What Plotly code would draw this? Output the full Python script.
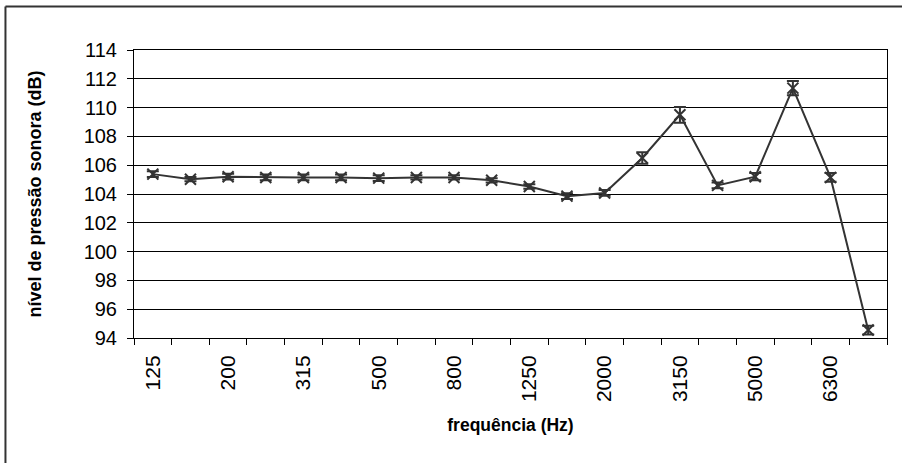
import plotly.graph_objects as go

categories = ["125", "160", "200", "250", "315", "400", "500", "630", "800", "1000",
              "1250", "1600", "2000", "2500", "3150", "4000", "5000", "5600", "6300", "8000"]
tick_labels = ["125", "", "200", "", "315", "", "500", "", "800", "",
               "1250", "", "2000", "", "3150", "", "5000", "", "6300", ""]
levels = [105.38, 105.03, 105.2, 105.15, 105.15, 105.15, 105.1, 105.15, 105.15, 104.95,
          104.52, 103.85, 104.07, 106.5, 109.5, 104.6, 105.2, 111.35, 105.15, 94.55]
errors = [0.2, 0.15, 0.2, 0.2, 0.2, 0.2, 0.2, 0.15, 0.15, 0.15,
          0.15, 0.2, 0.2, 0.4, 0.55, 0.2, 0.25, 0.5, 0.3, 0.3]

font_family = "Arial, Liberation Sans, sans-serif"
ink = "#333333"

fig = go.Figure()
fig.add_trace(go.Scatter(
    x=categories, y=levels, mode="lines+markers",
    line=dict(color=ink, width=2),
    marker=dict(symbol="x-thin", size=11, line=dict(color=ink, width=2), color=ink),
    error_y=dict(type="data", array=errors, visible=True, color=ink, thickness=2, width=6),
    showlegend=False,
))

fig.update_layout(
    width=902, height=463,
    margin=dict(l=134, r=15, t=50, b=125),
    paper_bgcolor="white", plot_bgcolor="white",
    font=dict(family=font_family, color="black"),
    xaxis=dict(
        type="category", categoryorder="array", categoryarray=categories,
        tickmode="array", tickvals=categories, ticktext=tick_labels,
        tickson="boundaries", ticks="outside", ticklen=6, tickcolor="black",
        tickangle=-90, tickfont=dict(size=21, family=font_family),
        ticklabelstandoff=8,
        showline=True, linecolor="black", linewidth=1, mirror=True,
        showgrid=False, zeroline=False,
        title=dict(text="<b>frequência (Hz)</b>", font=dict(size=17.5, family=font_family), standoff=17),
        range=[-0.5, 19.5],
    ),
    yaxis=dict(
        range=[94, 114], dtick=2, tick0=94,
        ticks="outside", ticklen=6, tickcolor="black",
        tickfont=dict(size=20, family=font_family),
        ticklabelstandoff=6,
        showline=True, linecolor="black", linewidth=1, mirror=True,
        showgrid=True, gridcolor="black", gridwidth=1, zeroline=False,
        title=dict(text="<b>nível de pressão sonora (dB)</b>", font=dict(size=18, family=font_family), standoff=37),
    ),
    shapes=[
        dict(type="line", xref="paper", yref="paper", x0=-0.1707, x1=2, y0=1.151, y1=1.151,
             line=dict(color=ink, width=2)),
        dict(type="line", xref="paper", yref="paper", x0=-0.1707, x1=-0.1707, y0=1.151, y1=-1,
             line=dict(color=ink, width=2)),
    ],
)

fig.write_html("out.html")
